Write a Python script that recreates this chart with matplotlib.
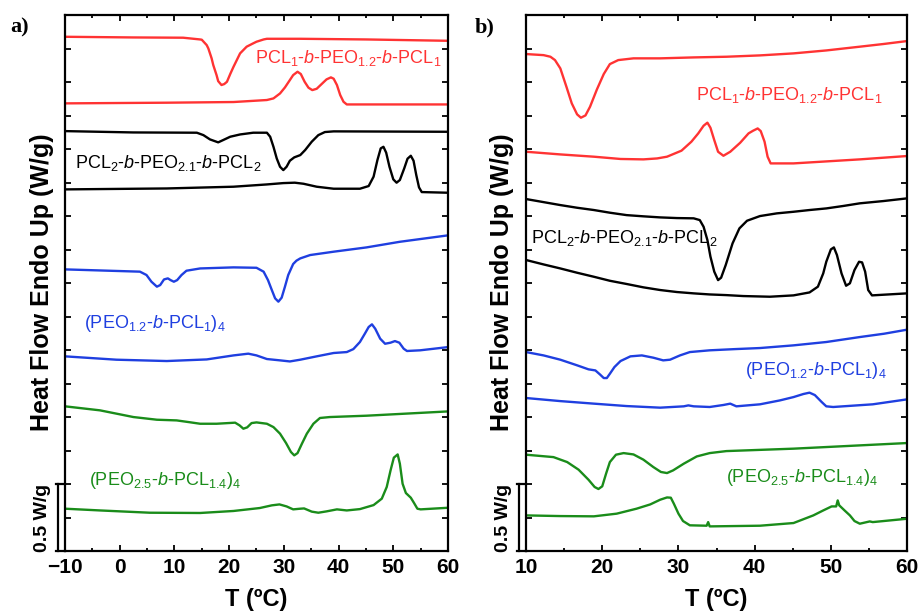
import numpy as np
import matplotlib
matplotlib.use('Agg')
import matplotlib.pyplot as plt
from matplotlib.ticker import MultipleLocator, NullFormatter
from matplotlib.transforms import blended_transform_factory

plt.rcParams['font.family'] = 'Liberation Sans'
plt.rcParams['mathtext.fontset'] = 'custom'
plt.rcParams['mathtext.rm'] = 'Liberation Sans'
plt.rcParams['mathtext.it'] = 'Liberation Sans:italic'
plt.rcParams['mathtext.bf'] = 'Liberation Sans:bold'

RED = '#FF3333'
BLACK = '#000000'
BLUE = '#1F3FE0'
GREEN = '#1A8C1A'

# ---------------- panel a) data (T in C, heat flow in W/g, offset) ----------------
a_red_cool_T = [-10, 2.5, 11.6, 14.7, 15.0, 15.9, 16.2, 16.8, 17.1, 17.7, 18.0, 18.6, 19.1, 19.6,
                20.2, 20.8, 21.4, 22.0, 22.6, 23.2, 24.4, 25.0, 26.3, 26.9, 33.0, 45.1, 60]
a_red_cool_W = [3.838, 3.833, 3.831, 3.818, 3.816, 3.776, 3.751, 3.677, 3.627, 3.552, 3.507, 3.478, 3.485, 3.502,
                3.560, 3.614, 3.664, 3.714, 3.739, 3.764, 3.789, 3.801, 3.818, 3.823, 3.823, 3.818, 3.808]

a_red_heat_T = [-10, 8.6, 20.8, 26.9, 28.1, 29.3, 30.2, 31.1, 31.7, 32.5, 33.1, 33.8, 34.5, 35.2, 36.0,
                36.9, 37.8, 38.6, 39.1, 39.7, 40.3, 40.9, 41.5, 60]
a_red_heat_W = [3.341, 3.346, 3.351, 3.366, 3.378, 3.415, 3.460, 3.515, 3.552, 3.577, 3.560, 3.502, 3.458, 3.440, 3.450,
                3.485, 3.520, 3.535, 3.525, 3.478, 3.403, 3.353, 3.333, 3.333]

a_blk_cool_T = [-10, 2.5, 14.1, 15.3, 16.5, 18.0, 18.9, 20.2, 22.0, 24.4, 26.9, 27.5, 28.1, 28.7, 29.3, 29.9,
                30.5, 31.1, 31.9, 33.0, 33.9, 35.1, 36.3, 37.5, 39.1, 60]
a_blk_cool_W = [3.134, 3.124, 3.122, 3.104, 3.072, 3.050, 3.067, 3.092, 3.109, 3.122, 3.122, 3.092, 3.017, 2.930, 2.868, 2.843,
                2.868, 2.913, 2.938, 2.955, 2.993, 3.055, 3.104, 3.127, 3.132, 3.129]

a_blk_heat_T = [-10, 8.6, 20.8, 26.9, 29.9, 32.0, 33.6, 36.0, 39.1, 43.9, 45.5, 46.4, 47.1, 47.7, 48.2, 48.7,
                49.3, 50.0, 50.6, 51.2, 52.0, 52.6, 53.2, 53.7, 54.2, 54.7, 55.2, 60]
a_blk_heat_W = [2.699, 2.706, 2.719, 2.736, 2.746, 2.749, 2.741, 2.719, 2.704, 2.704, 2.724, 2.794, 2.918, 3.005, 3.017, 2.973,
                2.868, 2.774, 2.749, 2.769, 2.856, 2.928, 2.950, 2.913, 2.806, 2.714, 2.679, 2.674]

a_blu_cool_T = [-10, 3.7, 4.9, 5.8, 6.8, 7.4, 8.1, 8.8, 9.3, 9.9, 10.5, 11.3, 12.2, 14.7, 20.8, 25.0, 26.3,
                27.1, 27.8, 28.4, 29.0, 29.6, 30.2, 30.8, 31.7, 32.3, 33.0, 34.8, 39.1, 45.1, 51.2, 60]
a_blu_cool_W = [2.102, 2.085, 2.060, 2.010, 1.973, 1.985, 2.027, 2.035, 2.022, 2.010, 2.022, 2.060, 2.092, 2.109, 2.117, 2.114, 2.085,
                2.022, 1.948, 1.886, 1.861, 1.891, 1.973, 2.060, 2.142, 2.167, 2.184, 2.209, 2.234, 2.266, 2.308, 2.356]

a_blu_heat_T = [-10, -0.6, 8.6, 15.9, 20.8, 23.5, 25.0, 26.9, 29.3, 31.1, 33.0, 36.0, 39.1, 41.5, 42.7, 43.9,
                44.8, 45.5, 46.1, 46.7, 47.6, 48.5, 49.5, 50.3, 51.1, 51.9, 52.5, 54.9, 60]
a_blu_heat_W = [1.453, 1.428, 1.418, 1.430, 1.460, 1.473, 1.460, 1.433, 1.423, 1.415, 1.428, 1.453, 1.478, 1.485, 1.507, 1.560,
                1.622, 1.672, 1.692, 1.659, 1.585, 1.547, 1.555, 1.567, 1.555, 1.510, 1.493, 1.498, 1.522]

a_grn_cool_T = [-10, -3.6, 2.5, 6.8, 10.4, 12.5, 14.7, 17.7, 21.1, 21.9, 22.6, 23.3, 24.1, 25.0, 26.9, 28.1,
                29.3, 30.4, 31.3, 31.9, 32.5, 33.3, 34.2, 35.4, 36.6, 38.4, 45.1, 60]
a_grn_cool_W = [1.080, 1.050, 1.000, 0.980, 0.975, 0.963, 0.950, 0.950, 0.958, 0.938, 0.913, 0.923, 0.955, 0.960, 0.950, 0.925,
                0.876, 0.806, 0.739, 0.714, 0.731, 0.801, 0.876, 0.950, 0.993, 1.000, 1.010, 1.042]

a_grn_heat_T = [-10, -3.6, 5.5, 14.7, 20.8, 25.6, 27.8, 29.2, 30.5, 31.7, 33.0, 33.7, 35.1, 36.3, 37.8, 39.7,
                41.5, 43.9, 46.4, 47.9, 48.8, 49.5, 50.1, 50.8, 51.2, 51.7, 52.3, 53.2, 53.8, 54.4, 55.0, 60]
a_grn_heat_W = [0.316, 0.303, 0.286, 0.284, 0.299, 0.321, 0.341, 0.348, 0.333, 0.311, 0.316, 0.318, 0.294, 0.286, 0.296, 0.311,
                0.303, 0.313, 0.343, 0.391, 0.478, 0.602, 0.697, 0.721, 0.652, 0.502, 0.433, 0.398, 0.358, 0.316, 0.311, 0.323]

# ---------------- panel b) data ----------------
b_red_cool_T = [10, 12.3, 13.2, 13.8, 14.5, 15.3, 16.0, 16.7, 17.2, 17.8, 18.4, 19.3, 20.2, 21.0, 22.1, 24.1,
                27.6, 32.0, 36.3, 40.7, 45.1, 49.4, 53.8, 56.9, 60]
b_red_cool_W = [3.709, 3.701, 3.689, 3.664, 3.602, 3.465, 3.341, 3.259, 3.234, 3.251, 3.316, 3.445, 3.560, 3.634, 3.664, 3.677,
                3.677, 3.684, 3.689, 3.699, 3.714, 3.736, 3.764, 3.784, 3.806]

b_red_heat_T = [10, 14.5, 18.9, 22.4, 25.4, 27.2, 28.5, 30.4, 31.7, 32.6, 33.3, 33.8, 34.2, 34.7, 35.2, 35.9, 36.8, 38.1, 39.2,
                39.8, 40.4, 40.8, 41.3, 41.7, 42.1, 45.1, 53.8, 60]
b_red_heat_W = [2.980, 2.960, 2.943, 2.926, 2.923, 2.930, 2.943, 2.988, 3.055, 3.117, 3.174, 3.197, 3.159, 3.067, 2.980, 2.950, 2.980,
                3.047, 3.117, 3.137, 3.154, 3.134, 3.055, 2.943, 2.893, 2.893, 2.923, 2.948]

b_blk_cool_T = [10, 12.3, 14.5, 16.7, 18.9, 21.0, 23.2, 25.4, 27.6, 29.8, 32.0, 32.8, 33.3, 33.8, 34.2, 34.7, 35.2,
                35.6, 36.2, 37.1, 38.0, 39.0, 40.7, 42.9, 45.1, 47.2, 49.4, 51.6, 53.8, 56.9, 60]
b_blk_cool_W = [2.627, 2.604, 2.582, 2.562, 2.545, 2.525, 2.507, 2.498, 2.490, 2.485, 2.483, 2.470, 2.420, 2.321, 2.197, 2.085,
                2.022, 2.040, 2.134, 2.296, 2.408, 2.465, 2.500, 2.520, 2.532, 2.545, 2.557, 2.575, 2.595, 2.612, 2.632]

b_blk_heat_T = [10, 12.3, 14.5, 16.7, 18.9, 21.0, 23.2, 25.4, 27.6, 29.8, 32.0, 34.1, 36.3, 38.5, 42.0, 45.1, 47.2,
                48.3, 49.0, 49.4, 50.0, 50.4, 50.8, 51.4, 52.0, 52.5, 53.1, 53.7, 54.1, 54.5, 54.9, 55.4, 60]
b_blk_heat_W = [2.172, 2.139, 2.109, 2.077, 2.047, 2.017, 1.993, 1.968, 1.948, 1.933, 1.923, 1.915, 1.910, 1.903, 1.898, 1.908,
                1.930, 1.973, 2.072, 2.159, 2.251, 2.266, 2.209, 2.072, 1.980, 1.998, 2.097, 2.159, 2.154, 2.085, 1.948,
                1.908, 1.923]

b_blu_cool_T = [10, 12.3, 14.5, 16.7, 18.2, 19.1, 19.7, 20.2, 20.6, 21.0, 21.6, 22.4, 23.7, 25.2, 26.7, 28.0, 28.9,
                30.2, 31.5, 34.1, 37.4, 40.7, 45.1, 49.4, 53.8, 57.0, 60]
b_blu_cool_W = [1.485, 1.460, 1.428, 1.386, 1.356, 1.348, 1.318, 1.291, 1.291, 1.323, 1.373, 1.418, 1.453, 1.460, 1.443, 1.423,
                1.428, 1.460, 1.485, 1.498, 1.507, 1.515, 1.535, 1.560, 1.597, 1.622, 1.652]

b_blu_heat_T = [10, 14.5, 18.9, 23.2, 27.6, 30.7, 31.3, 32.0, 34.1, 35.9, 36.8, 37.6, 40.7, 43.3, 45.1, 46.4,
                47.2, 47.9, 48.8, 49.4, 50.3, 55.5, 60]
b_blu_heat_W = [1.142, 1.119, 1.100, 1.082, 1.070, 1.080, 1.087, 1.080, 1.075, 1.090, 1.100, 1.080, 1.095, 1.124, 1.149, 1.172,
                1.182, 1.164, 1.112, 1.080, 1.075, 1.095, 1.132]

b_grn_cool_T = [10, 13.6, 15.4, 16.9, 18.2, 19.0, 19.5, 20.0, 20.5, 21.0, 21.8, 22.8, 24.1, 25.4, 26.7, 27.7,
                28.5, 29.3, 30.7, 32.4, 34.1, 36.3, 45.1, 60]
b_grn_cool_W = [0.719, 0.701, 0.664, 0.607, 0.532, 0.478, 0.463, 0.483, 0.577, 0.664, 0.719, 0.731, 0.721, 0.682, 0.627, 0.590,
                0.582, 0.602, 0.652, 0.706, 0.731, 0.746, 0.764, 0.806]

b_grn_heat_T = [10, 14.5, 18.9, 21.9, 24.5, 26.3, 27.6, 28.5, 29.0, 29.4, 30.0, 30.6, 31.5, 33.7, 33.9, 34.1,
                40.7, 45.1, 47.7, 49.0, 50.1, 50.7, 50.9, 51.1, 51.8, 52.5, 53.1, 53.8, 55.1, 55.5, 60]
b_grn_heat_W = [0.266, 0.261, 0.259, 0.279, 0.316, 0.348, 0.383, 0.400, 0.398, 0.353, 0.279, 0.224, 0.192, 0.189, 0.216, 0.184,
                0.189, 0.209, 0.266, 0.303, 0.333, 0.333, 0.378, 0.341, 0.303, 0.266, 0.224, 0.204, 0.221, 0.216, 0.241]

# sample labels and where they sit (T, W/g)
lbl_red = r'PCL$_1$-$b$-PEO$_{1.2}$-$b$-PCL$_1$'
lbl_blk = r'PCL$_2$-$b$-PEO$_{2.1}$-$b$-PCL$_2$'
lbl_blu = r'(PEO$_{1.2}$-$b$-PCL$_1$)$_4$'
lbl_grn = r'(PEO$_{2.5}$-$b$-PCL$_{1.4}$)$_4$'

a_curves = [(a_red_cool_T, a_red_cool_W, RED), (a_red_heat_T, a_red_heat_W, RED),
            (a_blk_cool_T, a_blk_cool_W, BLACK), (a_blk_heat_T, a_blk_heat_W, BLACK),
            (a_blu_cool_T, a_blu_cool_W, BLUE), (a_blu_heat_T, a_blu_heat_W, BLUE),
            (a_grn_cool_T, a_grn_cool_W, GREEN), (a_grn_heat_T, a_grn_heat_W, GREEN)]
b_curves = [(b_red_cool_T, b_red_cool_W, RED), (b_red_heat_T, b_red_heat_W, RED),
            (b_blk_cool_T, b_blk_cool_W, BLACK), (b_blk_heat_T, b_blk_heat_W, BLACK),
            (b_blu_cool_T, b_blu_cool_W, BLUE), (b_blu_heat_T, b_blu_heat_W, BLUE),
            (b_grn_cool_T, b_grn_cool_W, GREEN), (b_grn_heat_T, b_grn_heat_W, GREEN)]

a_labels = [(24.7, 3.677, lbl_red, RED), (-8.2, 2.893, lbl_blk, BLACK),
            (-6.6, 1.697, lbl_blu, BLUE), (-5.7, 0.527, lbl_grn, GREEN)]
b_labels = [(32.3, 3.403, lbl_red, RED), (10.7, 2.333, lbl_blk, BLACK),
            (38.7, 1.348, lbl_blu, BLUE), (36.3, 0.552, lbl_grn, GREEN)]

fig = plt.figure(figsize=(9.19, 6.15), dpi=100)
ax_a = fig.add_axes([0.0707, 0.104, 0.4168, 0.8715])
ax_b = fig.add_axes([0.5724, 0.104, 0.4146, 0.8715])


def setup(ax, xmin, curves, labels):
    for T, W, c in curves:
        ax.plot(T, W, color=c, lw=1.7, solid_joinstyle='round')
    for x, y, s, c in labels:
        ax.text(x, y, s, color=c, fontsize=13, ha='left', va='center')

    ax.set_xlim(xmin, 60)
    ax.set_ylim(0, 4)
    ax.xaxis.set_major_locator(MultipleLocator(10))
    ax.xaxis.set_minor_locator(MultipleLocator(5))
    ax.yaxis.set_major_locator(MultipleLocator(0.25))
    ax.yaxis.set_major_formatter(NullFormatter())
    ax.tick_params(which='both', direction='in', top=True, right=True, width=1.3)
    ax.tick_params(which='major', length=4)
    ax.tick_params(which='minor', length=2.5)
    ax.tick_params(axis='x', labelsize=15, pad=5)
    for lab in ax.get_xticklabels():
        lab.set_fontweight('bold')
    for sp in ax.spines.values():
        sp.set_linewidth(1.6)
    ax.set_xlabel('T (ºC)', fontsize=17, fontweight='bold', labelpad=8)

    # 0.5 W/g scale bar left of the axis
    tr = blended_transform_factory(ax.transAxes, ax.transData)
    xb = -0.018
    ax.plot([xb, xb], [0, 0.5], color='black', lw=1.6, transform=tr, clip_on=False)
    ax.plot([xb - 0.006, 0], [0.5, 0.5], color='black', lw=1.6, transform=tr, clip_on=False)
    ax.plot([xb - 0.006, 0], [0, 0], color='black', lw=1.6, transform=tr, clip_on=False)
    ax.text(-0.058, 0.25, '0.5 W/g', transform=tr, rotation=90, ha='center', va='center',
            fontsize=14, fontweight='bold')


setup(ax_a, -10, a_curves, a_labels)
setup(ax_b, 10, b_curves, b_labels)

# y labels and panel letters
fig.text(0.046, 0.541, 'Heat Flow Endo Up (W/g)', rotation=90, ha='center', va='center',
         fontsize=18, fontweight='bold')
fig.text(0.546, 0.541, 'Heat Flow Endo Up (W/g)', rotation=90, ha='center', va='center',
         fontsize=18, fontweight='bold')
fig.text(0.011, 0.956, 'a)', fontsize=16, fontweight='bold', family='Liberation Serif', va='center')
fig.text(0.516, 0.956, 'b)', fontsize=16, fontweight='bold', family='Liberation Serif', va='center')

fig.savefig('out.png', dpi=100)
